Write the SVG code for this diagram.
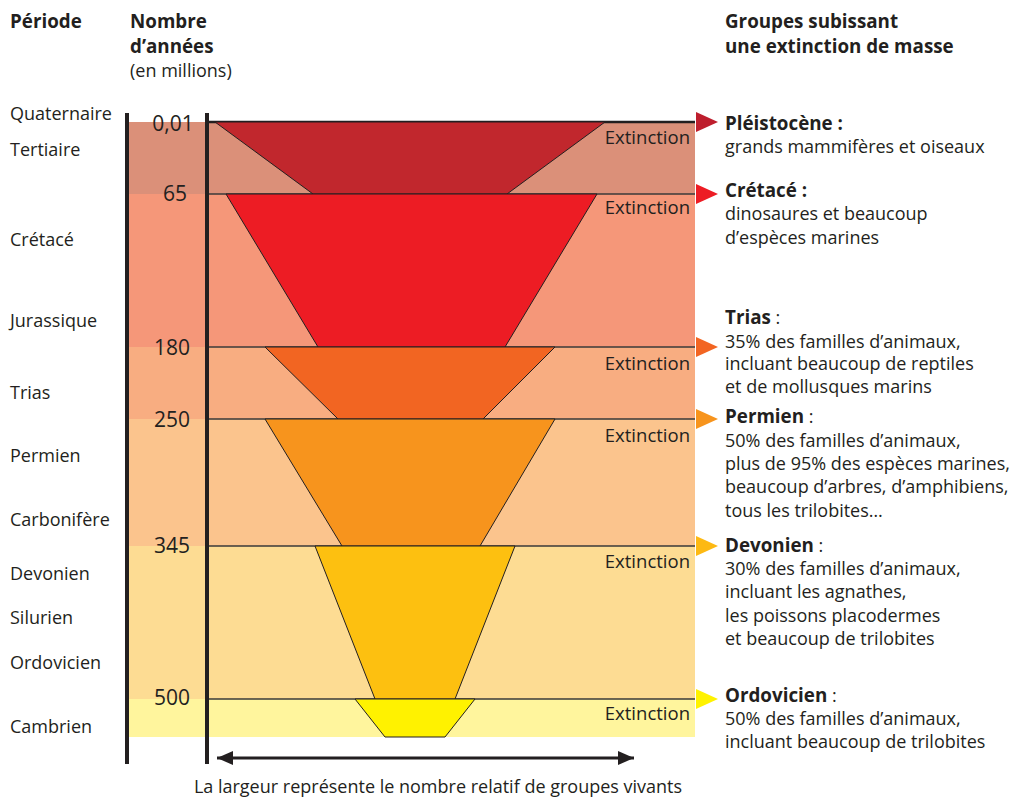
<svg xmlns="http://www.w3.org/2000/svg" width="1020" height="800" viewBox="0 0 1020 800">
  <style>
    text { font-family: "Open Sans", "Noto Sans", "Liberation Sans", sans-serif; font-size: 18px; fill: #231f20; }
    .b { font-weight: 700; font-size: 18.8px; }
    .num { font-size: 21px; }
    .ext { text-anchor: end; font-size: 18.5px; }
    .trap { stroke: #231f20; stroke-width: 1; stroke-linejoin: miter; }
    .sep { stroke: #3a3a3a; stroke-width: 1.3; }
    .axis { stroke: #231f20; stroke-width: 4; }
  </style>
  <defs>
    <marker id="head" viewBox="0 0 16 14" refX="16" refY="7" markerWidth="16" markerHeight="14" markerUnits="userSpaceOnUse" orient="auto-start-reverse">
      <path d="M0,0 L16,7 L0,14 Z" fill="#231f20"/>
    </marker>
  </defs>

  <rect width="1020" height="800" fill="#ffffff"/>

  <!-- column headers -->
  <g id="headers">
    <text class="b" x="10" y="28">Période</text>
    <text class="b" x="130" y="28">Nombre</text>
    <text class="b" x="130" y="53">d’années</text>
    <text x="130" y="77">(en millions)</text>
    <text class="b" x="725" y="28">Groupes subissant</text>
    <text class="b" x="725" y="53">une extinction de masse</text>
  </g>

  <!-- time bands -->
  <g id="bands">
    <rect x="128" y="122" width="567" height="72" fill="#db9079"/>
    <rect x="128" y="194" width="567" height="153" fill="#f59779"/>
    <rect x="128" y="347" width="567" height="72" fill="#f8ad81"/>
    <rect x="128" y="419" width="567" height="127" fill="#fbc48d"/>
    <rect x="128" y="546" width="567" height="153" fill="#fddc93"/>
    <rect x="128" y="699" width="567" height="38" fill="#fff59d"/>
  </g>

  <!-- band separators -->
  <g id="separators">
    <line x1="207" y1="122" x2="695" y2="122" stroke="#231f20" stroke-width="2.5"/>
    <line class="sep" x1="207" y1="194" x2="695" y2="194"/>
    <line class="sep" x1="207" y1="347" x2="695" y2="347"/>
    <line class="sep" x1="207" y1="419" x2="695" y2="419"/>
    <line class="sep" x1="207" y1="546" x2="695" y2="546"/>
    <line class="sep" x1="207" y1="699" x2="695" y2="699"/>
  </g>

  <!-- diversity trapezoids -->
  <g id="trap-tertiaire"><polygon class="trap" points="215,122 605,122 507,194 313,194" fill="#c1272d"/></g>
  <g id="trap-cretace"><polygon class="trap" points="226,194 597,194 505,347 318,347" fill="#ed1c24"/></g>
  <g id="trap-trias"><polygon class="trap" points="265,347 555,347 483,419 338,419" fill="#f26522"/></g>
  <g id="trap-permien"><polygon class="trap" points="265,419 555,419 480,546 342,546" fill="#f7941d"/></g>
  <g id="trap-devonien"><polygon class="trap" points="315,546 515,546 455,699 375,699" fill="#fdc010"/></g>
  <g id="trap-ordovicien"><polygon class="trap" points="355,699 475,699 445,737 385,737" fill="#fff200"/></g>

  <!-- vertical axes -->
  <g id="axes">
    <line class="axis" x1="127" y1="113" x2="127" y2="764"/>
    <line class="axis" x1="207" y1="113" x2="207" y2="764"/>
  </g>

  <!-- period names -->
  <g id="periods">
    <text x="10" y="120">Quaternaire</text>
    <text x="10" y="156">Tertiaire</text>
    <text x="10" y="246">Crétacé</text>
    <text x="10" y="327">Jurassique</text>
    <text x="10" y="399">Trias</text>
    <text x="10" y="462">Permien</text>
    <text x="10" y="526">Carbonifère</text>
    <text x="10" y="580">Devonien</text>
    <text x="10" y="624">Silurien</text>
    <text x="10" y="669">Ordovicien</text>
    <text x="10" y="733">Cambrien</text>
  </g>

  <!-- ages (millions of years) -->
  <g id="ages" text-anchor="middle">
    <text class="num" x="173" y="131">0,01</text>
    <text class="num" x="175" y="201">65</text>
    <text class="num" x="172" y="355">180</text>
    <text class="num" x="172" y="427">250</text>
    <text class="num" x="172" y="553">345</text>
    <text class="num" x="172" y="705">500</text>
  </g>

  <!-- extinction labels -->
  <g id="extinctions">
    <text class="ext" x="690" y="144">Extinction</text>
    <text class="ext" x="690" y="214">Extinction</text>
    <text class="ext" x="690" y="370">Extinction</text>
    <text class="ext" x="690" y="442">Extinction</text>
    <text class="ext" x="690" y="568">Extinction</text>
    <text class="ext" x="690" y="720">Extinction</text>
  </g>

  <!-- connectors: pointers to groups and width scale -->
  <g id="connectors">
    <polygon points="696,112 718,122 696,132" fill="#be1e2d"/>
    <polygon points="696,184 718,194 696,204" fill="#ed1c24"/>
    <polygon points="696,337 718,347 696,357" fill="#f26522"/>
    <polygon points="696,409 718,419 696,429" fill="#f7941d"/>
    <polygon points="696,536 718,546 696,556" fill="#fdb913"/>
    <polygon points="696,689 718,699 696,709" fill="#fff200"/>
    <line x1="217" y1="758" x2="634" y2="758" stroke="#231f20" stroke-width="3" marker-start="url(#head)" marker-end="url(#head)"/>
  </g>

  <!-- extinction descriptions -->
  <g id="desc-pleistocene">
    <text class="b" x="725" y="130">Pléistocène :</text>
    <text x="725" y="153">grands mammifères et oiseaux</text>
  </g>
  <g id="desc-cretace">
    <text class="b" x="725" y="197">Crétacé :</text>
    <text x="725" y="220">dinosaures et beaucoup</text>
    <text x="725" y="244">d’espèces marines</text>
  </g>
  <g id="desc-trias">
    <text x="725" y="324"><tspan class="b">Trias</tspan> :</text>
    <text x="725" y="348">35% des familles d’animaux,</text>
    <text x="725" y="370">incluant beaucoup de reptiles</text>
    <text x="725" y="393">et de mollusques marins</text>
  </g>
  <g id="desc-permien">
    <text x="725" y="423"><tspan class="b">Permien</tspan> :</text>
    <text x="725" y="447">50% des familles d’animaux,</text>
    <text x="725" y="470">plus de 95% des espèces marines,</text>
    <text x="725" y="493">beaucoup d’arbres, d’amphibiens,</text>
    <text x="725" y="517">tous les trilobites…</text>
  </g>
  <g id="desc-devonien">
    <text x="725" y="552"><tspan class="b">Devonien</tspan> :</text>
    <text x="725" y="575">30% des familles d’animaux,</text>
    <text x="725" y="598">incluant les agnathes,</text>
    <text x="725" y="622">les poissons placodermes</text>
    <text x="725" y="645">et beaucoup de trilobites</text>
  </g>
  <g id="desc-ordovicien">
    <text x="725" y="702"><tspan class="b">Ordovicien</tspan> :</text>
    <text x="725" y="725">50% des familles d’animaux,</text>
    <text x="725" y="748">incluant beaucoup de trilobites</text>
  </g>

  <g id="caption">
    <text x="438" y="793" text-anchor="middle">La largeur représente le nombre relatif de groupes vivants</text>
  </g>
</svg>
